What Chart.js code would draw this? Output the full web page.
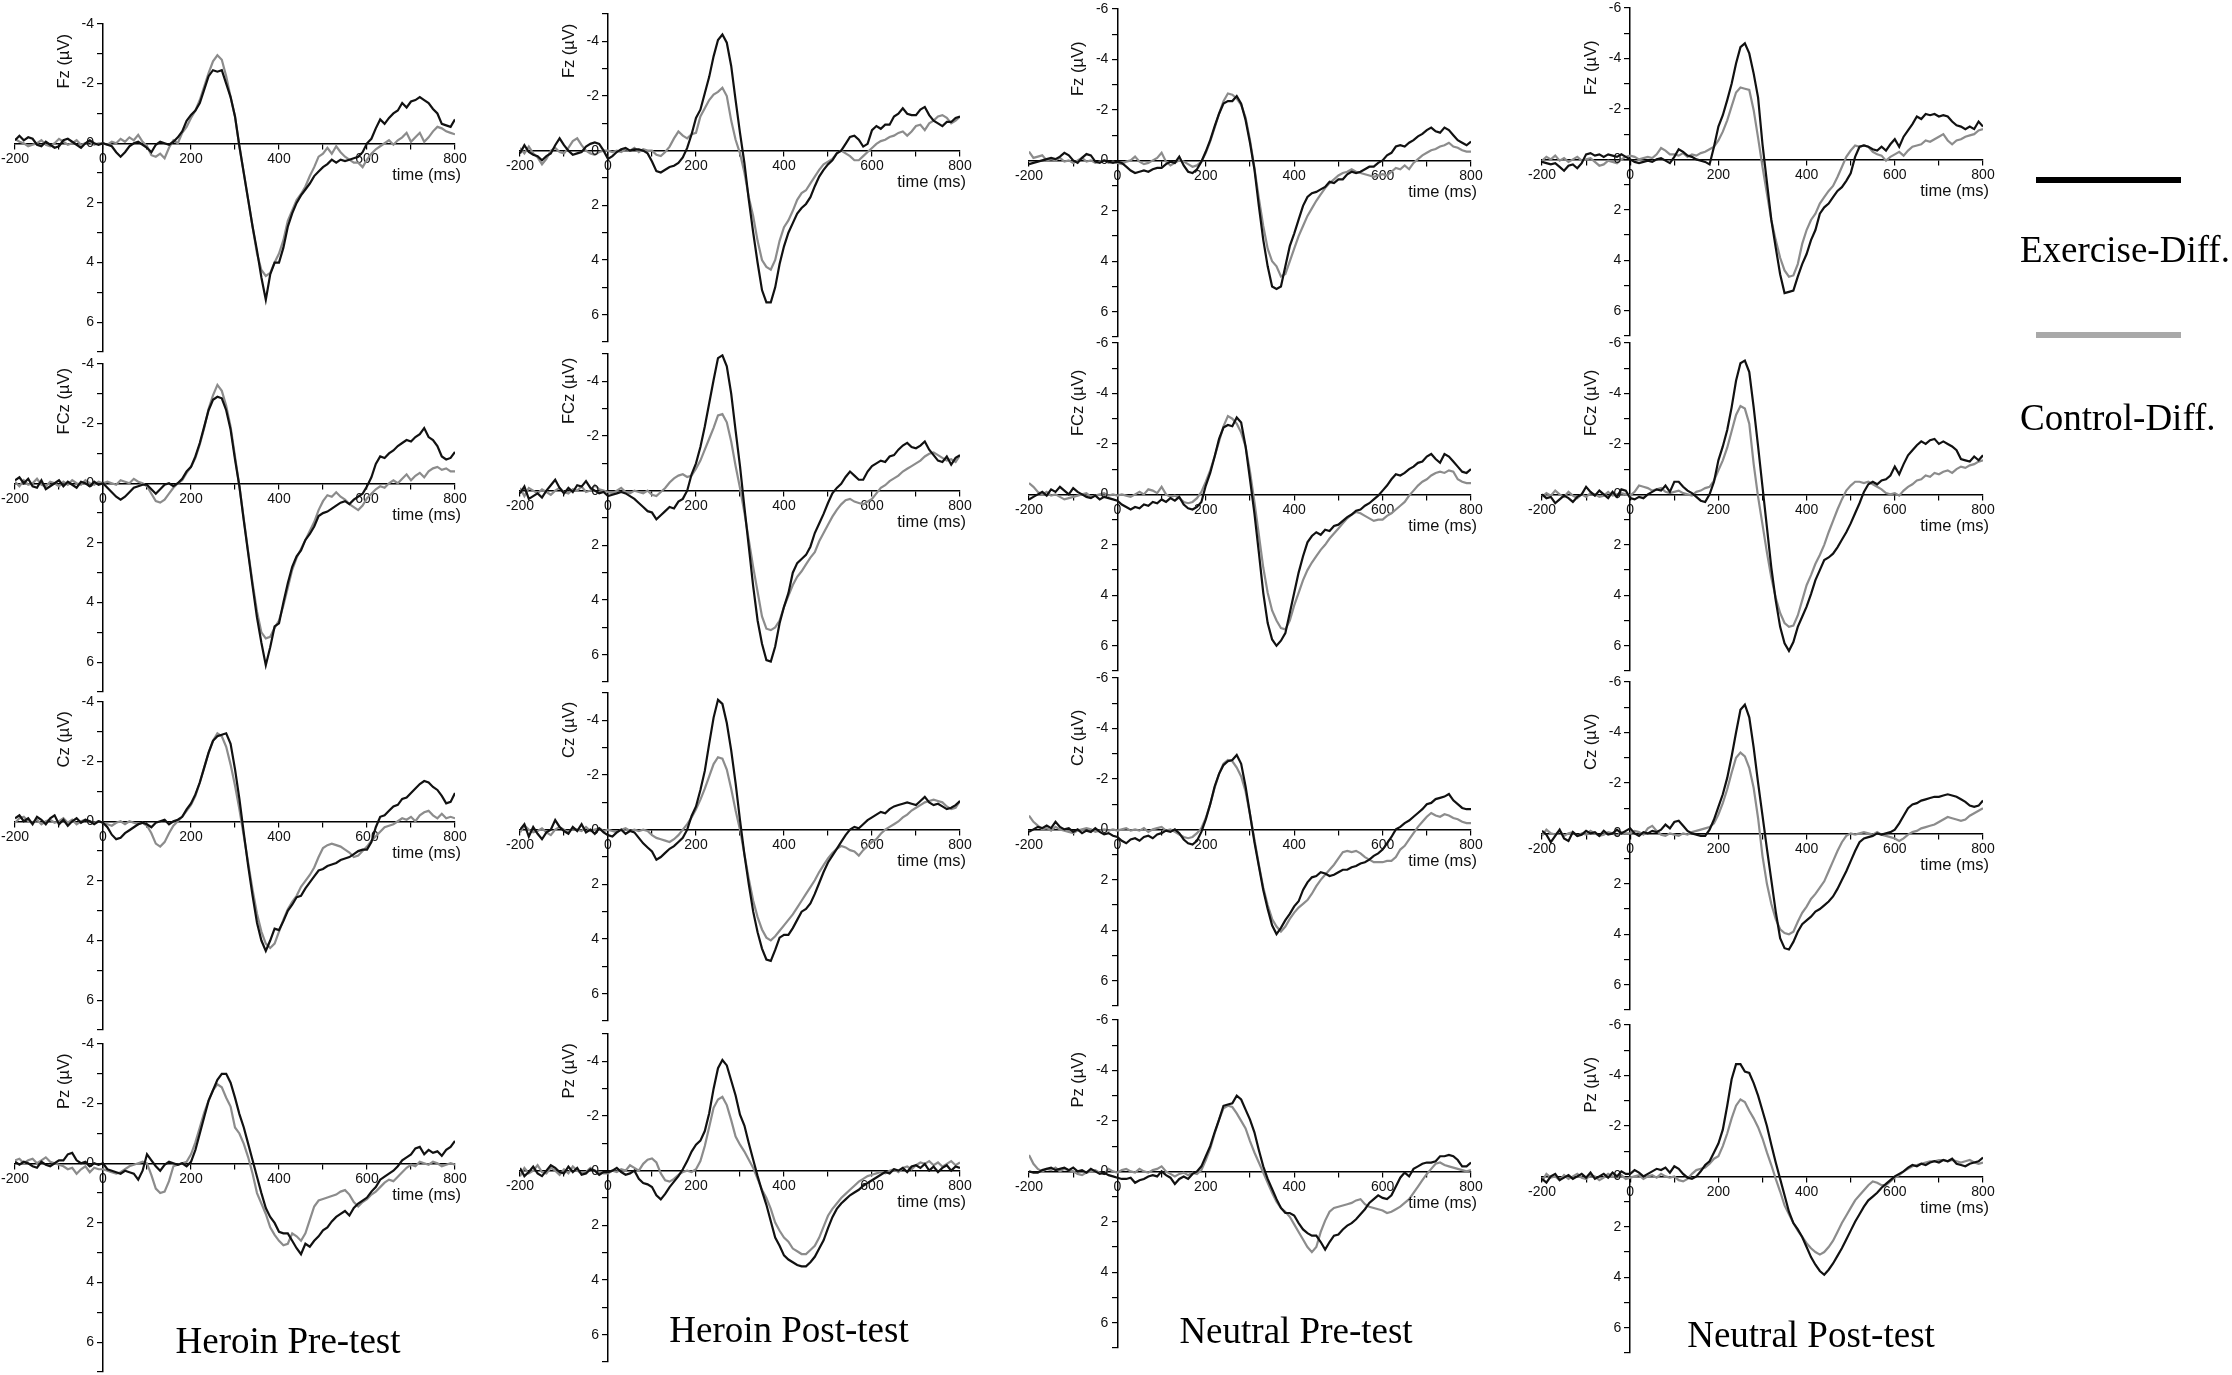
<!DOCTYPE html>
<html><head><meta charset="utf-8">
<script src="https://cdn.jsdelivr.net/npm/chart.js@4.4.1/dist/chart.umd.min.js"></script>
<style>
html,body{margin:0;padding:0;background:#fff;}
#fig{position:relative;width:2232px;height:1375px;overflow:hidden;background:#fff;}
#fig canvas{position:absolute;}
.serif{position:absolute;font-family:"Liberation Serif","Times New Roman",serif;font-size:37px;line-height:37px;white-space:nowrap;color:#000;}
.title{transform:translateX(-50%);}
.legline{position:absolute;}
</style></head><body><div id="fig"></div>
<script>
// ---------------- data ----------------
const times = [-200,-190,-180,-170,-160,-150,-140,-130,-120,-110,-100,-90,-80,-70,-60,-50,-40,-30,-20,-10,
0,10,20,30,40,50,60,70,80,90,100,110,120,130,140,150,160,170,180,190,200,210,220,230,240,250,260,270,280,290,
300,310,320,330,340,350,360,370,380,390,400,410,420,430,440,450,460,470,480,490,500,510,520,530,540,550,560,570,580,590,
600,610,620,630,640,650,660,670,680,690,700,710,720,730,740,750,760,770,780,790,800];
const electrodes = ['Fz','FCz','Cz','Pz'];
const conditions = ['Heroin Pre-test','Heroin Post-test','Neutral Pre-test','Neutral Post-test'];
const seriesNames = ['Exercise-Diff.','Control-Diff.'];
const xLabeledTicks = [-200,0,200,400,600,800];
const yLabeledTicks = [-6,-4,-2,0,2,4,6];
const yMinByCondition = [-4,-5,-6,-6];
const yMaxByCondition = [7,7,7,7];

const fzHeroinPreEx = [-0.1,-0.25,-0.1,-0.2,-0.15,0.05,0.1,-0.05,0.05,0.15,0.1,-0.1,-0.15,-0.05,0.05,0.15,0.0,-0.1,0.0,0.05,0.0,0.05,0.1,0.3,0.45,0.3,0.1,0.0,-0.05,0.05,0.15,0.3,0.05,-0.05,0.0,0.05,-0.05,-0.2,-0.4,-0.75,-0.95,-1.1,-1.35,-1.8,-2.25,-2.45,-2.4,-2.45,-2.0,-1.55,-0.9,0.1,1.0,1.9,2.8,3.6,4.5,5.25,4.4,4.0,4.0,3.5,2.8,2.35,2.0,1.75,1.55,1.35,1.1,0.95,0.8,0.7,0.55,0.65,0.55,0.6,0.55,0.5,0.45,0.3,0.0,-0.15,-0.5,-0.8,-0.65,-0.85,-1.0,-1.1,-1.35,-1.2,-1.4,-1.45,-1.55,-1.45,-1.35,-1.15,-1.0,-0.65,-0.6,-0.55,-0.8];
const fzHeroinPreCt = [-0.15,-0.05,0.0,0.1,0.05,0.0,-0.1,0.05,0.1,0.0,-0.15,-0.05,0.05,0.0,-0.1,0.05,0.0,-0.05,0.05,0.0,0.0,0.05,-0.05,0.0,-0.15,-0.05,-0.2,-0.1,-0.28,-0.05,0.1,0.4,0.45,0.35,0.5,0.15,-0.1,0.0,-0.35,-0.55,-0.85,-1.1,-1.45,-1.9,-2.35,-2.75,-2.95,-2.8,-2.25,-1.55,-0.9,0.1,1.0,1.9,2.8,3.7,4.25,4.45,4.35,4.0,3.7,3.25,2.6,2.25,1.9,1.7,1.45,1.1,0.8,0.45,0.35,0.15,0.35,0.1,0.3,0.45,0.55,0.65,0.65,0.8,0.55,0.35,0.2,0.1,0.0,-0.1,0.05,-0.1,-0.2,-0.35,-0.05,-0.2,-0.35,-0.05,-0.2,-0.4,-0.55,-0.5,-0.4,-0.35,-0.3];
const fzHeroinPostEx = [0.1,-0.2,0.05,0.15,0.2,0.35,0.2,0.1,-0.2,-0.45,-0.2,0.0,0.15,0.1,0.05,-0.15,-0.25,-0.3,-0.25,0.0,0.3,0.2,0.05,-0.05,-0.1,0.0,-0.05,-0.05,0.0,0.1,0.4,0.75,0.8,0.7,0.6,0.55,0.45,0.25,-0.1,-0.6,-1.2,-1.5,-2.1,-2.7,-3.45,-4.05,-4.25,-3.95,-3.1,-1.85,-0.65,0.45,1.8,3.0,4.1,5.1,5.55,5.55,5.0,4.15,3.5,3.0,2.65,2.3,2.1,1.95,1.7,1.3,0.95,0.7,0.5,0.35,0.1,0.0,-0.25,-0.5,-0.55,-0.4,-0.15,-0.25,-0.75,-0.9,-0.8,-0.95,-0.95,-1.25,-1.35,-1.55,-1.35,-1.3,-1.3,-1.5,-1.6,-1.3,-1.1,-1.0,-0.9,-1.05,-1.05,-1.2,-1.25];
const fzHeroinPostCt = [-0.1,0.1,-0.15,0.1,0.25,0.5,0.3,0.0,-0.1,0.05,0.1,-0.1,-0.35,-0.45,-0.2,0.0,0.1,0.15,0.05,0.0,0.0,0.05,0.0,0.05,-0.05,0.0,-0.1,0.05,-0.05,0.0,0.0,0.15,0.2,0.05,-0.15,-0.45,-0.7,-0.55,-0.45,-0.6,-0.65,-1.25,-1.55,-1.85,-2.05,-2.15,-2.3,-2.0,-1.1,-0.4,0.1,0.8,1.7,2.4,3.3,4.0,4.25,4.35,4.0,3.3,2.8,2.55,2.2,1.8,1.55,1.45,1.2,0.95,0.7,0.5,0.4,0.3,0.1,0.0,0.1,0.2,0.35,0.35,0.2,0.05,-0.1,-0.25,-0.35,-0.4,-0.5,-0.55,-0.65,-0.7,-0.55,-0.7,-0.9,-0.95,-0.75,-1.0,-1.1,-1.25,-1.3,-1.2,-1.0,-1.1,-1.25];
const fzNeutralPreEx = [0.15,0.1,0.05,0.0,-0.05,-0.1,-0.05,-0.15,-0.3,-0.2,0.0,0.1,-0.1,-0.25,-0.2,0.05,0.1,0.0,0.05,0.1,0.05,0.1,0.25,0.4,0.5,0.45,0.4,0.45,0.35,0.3,0.3,0.15,0.05,0.1,-0.15,0.2,0.45,0.5,0.35,0.05,-0.35,-0.8,-1.35,-1.85,-2.25,-2.35,-2.35,-2.55,-2.25,-1.6,-0.7,0.35,1.8,3.15,4.2,5.0,5.1,5.0,4.2,3.4,2.9,2.35,1.8,1.45,1.3,1.25,1.15,1.05,0.85,0.9,0.75,0.75,0.55,0.45,0.5,0.45,0.35,0.25,0.25,0.1,0.0,-0.2,-0.3,-0.55,-0.6,-0.55,-0.7,-0.8,-0.95,-1.05,-1.2,-1.3,-1.15,-1.1,-1.3,-1.2,-1.0,-0.8,-0.7,-0.6,-0.75];
const fzNeutralPreCt = [-0.35,-0.1,-0.15,-0.2,0.0,-0.05,0.0,-0.1,0.05,0.0,0.1,0.0,-0.1,0.05,0.0,0.1,0.05,0.0,0.1,0.05,0.1,0.15,0.05,0.0,-0.15,0.05,0.15,0.1,0.0,-0.1,-0.3,0.05,0.2,0.1,0.0,0.05,0.15,0.25,0.2,0.05,-0.3,-0.75,-1.3,-1.85,-2.35,-2.65,-2.6,-2.45,-2.2,-1.7,-0.8,0.3,1.5,2.6,3.5,4.0,4.2,4.6,4.5,4.0,3.5,3.0,2.6,2.2,1.9,1.6,1.35,1.1,0.9,0.75,0.6,0.5,0.45,0.35,0.45,0.5,0.55,0.6,0.65,0.6,0.55,0.6,0.45,0.3,0.35,0.2,0.35,0.1,-0.05,-0.2,-0.3,-0.4,-0.45,-0.55,-0.6,-0.7,-0.55,-0.5,-0.4,-0.35,-0.35];
const fzNeutralPostEx = [0.1,0.15,0.2,0.15,0.3,0.45,0.25,0.2,0.35,0.15,-0.2,-0.25,-0.15,-0.2,-0.1,-0.2,-0.15,-0.1,-0.2,-0.1,0.0,0.1,0.15,0.1,0.05,0.1,0.0,-0.05,0.05,0.15,-0.1,-0.4,-0.3,-0.15,-0.1,0.0,0.05,0.1,0.2,-0.5,-1.3,-1.75,-2.35,-3.0,-3.8,-4.45,-4.6,-4.2,-3.4,-2.45,-0.6,0.9,2.4,3.5,4.55,5.3,5.25,5.2,4.65,4.15,3.75,3.2,2.8,2.15,1.9,1.75,1.5,1.25,1.1,0.85,0.55,-0.1,-0.5,-0.55,-0.5,-0.4,-0.35,-0.5,-0.35,-0.6,-0.8,-0.5,-0.9,-1.15,-1.4,-1.7,-1.6,-1.8,-1.75,-1.8,-1.7,-1.75,-1.7,-1.5,-1.35,-1.3,-1.2,-1.3,-1.2,-1.5,-1.3];
const fzNeutralPostCt = [0.05,-0.1,0.0,-0.15,0.05,-0.05,0.1,0.0,-0.1,0.05,0.0,-0.05,0.1,0.25,0.2,0.05,0.1,0.15,0.0,-0.1,-0.15,-0.1,0.0,-0.05,-0.1,-0.05,-0.2,-0.45,-0.35,-0.2,-0.2,-0.15,-0.25,-0.1,-0.2,-0.15,-0.25,-0.3,-0.4,-0.5,-0.75,-1.1,-1.55,-2.1,-2.65,-2.85,-2.8,-2.75,-1.95,-0.85,0.3,1.35,2.4,3.2,3.9,4.4,4.65,4.6,4.15,3.35,2.8,2.4,2.15,1.75,1.5,1.25,1.05,0.7,0.3,-0.1,-0.35,-0.55,-0.5,-0.55,-0.5,-0.3,-0.2,-0.15,0.05,-0.1,-0.2,-0.3,-0.15,-0.35,-0.5,-0.55,-0.6,-0.75,-0.7,-0.8,-0.9,-1.0,-0.75,-0.6,-0.75,-0.8,-0.9,-0.95,-1.0,-1.15,-1.2];

const fczHeroinPreEx = [-0.1,-0.2,0.0,-0.15,0.1,0.15,-0.1,0.2,0.1,0.0,-0.1,0.1,-0.05,0.05,0.15,-0.05,0.0,0.1,-0.05,0.05,0.0,0.15,0.3,0.45,0.55,0.45,0.3,0.15,0.1,0.05,0.05,0.2,0.35,0.2,0.05,0.0,0.1,0.0,-0.15,-0.4,-0.55,-0.9,-1.35,-1.9,-2.45,-2.8,-2.9,-2.85,-2.45,-1.8,-0.8,0.1,1.25,2.35,3.45,4.5,5.35,6.1,5.5,4.8,4.7,4.0,3.35,2.8,2.45,2.25,1.9,1.7,1.45,1.1,1.0,0.95,0.85,0.75,0.65,0.6,0.7,0.55,0.45,0.35,0.1,-0.2,-0.65,-0.9,-0.85,-1.0,-1.1,-1.25,-1.35,-1.45,-1.4,-1.55,-1.65,-1.85,-1.55,-1.45,-1.25,-0.9,-0.8,-0.85,-1.05];
const fczHeroinPreCt = [-0.05,0.1,-0.1,0.05,0.0,-0.15,0.05,0.1,-0.05,0.0,0.1,-0.05,0.05,-0.1,0.0,0.05,-0.1,0.0,0.05,-0.05,0.0,-0.05,0.0,0.05,-0.1,-0.05,0.0,-0.15,-0.05,0.0,0.1,0.35,0.6,0.65,0.55,0.35,0.15,0.0,-0.1,-0.35,-0.55,-0.85,-1.3,-1.85,-2.5,-2.95,-3.3,-3.1,-2.6,-1.9,-0.9,0.1,1.2,2.3,3.35,4.3,5.0,5.2,5.15,4.85,4.6,4.1,3.5,2.9,2.5,2.2,1.9,1.6,1.3,0.9,0.6,0.4,0.45,0.3,0.45,0.55,0.7,0.8,0.9,0.75,0.5,0.35,0.2,0.1,0.15,0.0,-0.1,0.0,-0.15,-0.3,-0.1,-0.25,-0.35,-0.2,-0.4,-0.5,-0.55,-0.45,-0.5,-0.4,-0.4];
const fczHeroinPostEx = [0.1,-0.15,0.3,0.2,0.1,0.25,0.0,-0.2,-0.4,-0.1,0.1,-0.1,0.05,-0.2,-0.15,-0.35,-0.1,0.0,0.1,0.05,0.2,0.15,0.1,0.05,0.1,0.2,0.3,0.45,0.6,0.75,0.8,1.05,0.9,0.75,0.6,0.65,0.4,0.3,0.0,-0.6,-1.0,-1.6,-2.35,-3.2,-4.05,-4.85,-4.95,-4.55,-3.55,-2.2,-0.9,0.6,2.05,3.5,4.75,5.6,6.2,6.25,5.7,4.85,4.25,3.75,3.0,2.65,2.5,2.35,2.05,1.55,1.2,0.85,0.45,0.1,-0.1,-0.25,-0.5,-0.7,-0.55,-0.4,-0.4,-0.7,-0.9,-1.0,-1.1,-1.05,-1.25,-1.3,-1.5,-1.65,-1.75,-1.6,-1.55,-1.65,-1.8,-1.5,-1.3,-1.1,-1.05,-1.25,-0.95,-1.2,-1.3];
const fczHeroinPostCt = [-0.1,0.2,-0.1,0.0,0.1,-0.05,0.05,0.15,0.0,-0.1,0.05,0.1,-0.05,0.0,-0.15,0.05,0.0,-0.2,-0.05,0.0,0.05,0.1,0.0,-0.1,0.05,0.1,0.0,0.05,0.1,0.0,0.15,0.2,0.05,-0.1,-0.3,-0.45,-0.55,-0.6,-0.5,-0.55,-0.8,-1.1,-1.5,-1.9,-2.3,-2.75,-2.8,-2.5,-1.8,-0.9,-0.1,0.8,1.8,2.8,3.7,4.6,5.05,5.1,5.0,4.75,4.25,3.85,3.45,3.15,2.95,2.7,2.45,2.25,1.85,1.55,1.25,0.95,0.7,0.5,0.35,0.3,0.4,0.45,0.5,0.4,0.3,0.1,-0.1,-0.2,-0.35,-0.45,-0.55,-0.7,-0.8,-0.9,-1.0,-1.1,-1.25,-1.35,-1.4,-1.3,-1.2,-1.1,-1.15,-1.05,-1.3];
const fczNeutralPreEx = [0.2,0.1,0.0,-0.1,0.05,-0.2,-0.1,-0.3,-0.15,0.0,-0.25,-0.1,0.0,0.1,0.15,0.05,0.2,0.1,0.15,0.2,0.25,0.4,0.5,0.6,0.5,0.55,0.4,0.45,0.3,0.35,0.2,0.3,0.15,0.25,0.1,0.4,0.55,0.6,0.5,0.3,-0.35,-0.85,-1.5,-2.2,-2.65,-2.75,-2.7,-3.05,-2.85,-1.9,-0.6,0.75,2.3,3.9,5.1,5.75,6.0,5.8,5.5,4.7,3.9,3.1,2.45,1.9,1.65,1.5,1.6,1.4,1.45,1.25,1.2,1.05,0.9,0.8,0.65,0.6,0.45,0.35,0.2,0.05,-0.15,-0.35,-0.6,-0.8,-0.75,-0.85,-1.0,-1.1,-1.25,-1.3,-1.5,-1.6,-1.4,-1.25,-1.6,-1.5,-1.3,-1.1,-0.9,-0.85,-1.0];
const fczNeutralPreCt = [-0.45,-0.3,-0.1,0.0,-0.1,0.05,0.0,0.1,0.2,0.15,0.1,0.05,0.0,-0.05,0.1,0.05,0.0,-0.05,0.05,0.0,0.05,0.0,0.05,0.1,0.0,-0.1,0.0,-0.2,-0.15,-0.05,-0.3,0.0,0.1,0.05,0.15,0.3,0.35,0.3,0.15,-0.1,-0.5,-0.95,-1.5,-2.1,-2.7,-3.1,-3.0,-2.8,-2.45,-1.9,-0.9,0.3,1.6,2.9,3.9,4.6,5.0,5.3,5.35,5.0,4.4,3.9,3.4,3.0,2.7,2.45,2.2,2.0,1.75,1.55,1.35,1.15,0.95,0.8,0.7,0.75,0.85,0.95,1.05,1.0,1.0,0.85,0.75,0.6,0.45,0.3,0.05,-0.15,-0.35,-0.5,-0.6,-0.75,-0.85,-0.9,-0.85,-0.95,-0.9,-0.6,-0.5,-0.45,-0.45];
const fczNeutralPostEx = [0.0,0.15,0.1,0.35,0.2,0.05,0.15,0.3,0.1,0.0,-0.3,-0.1,0.05,-0.15,0.0,0.15,-0.1,0.1,-0.2,-0.15,0.15,0.2,0.1,0.15,0.0,-0.1,-0.2,-0.15,-0.35,-0.1,-0.5,-0.5,-0.3,-0.15,-0.05,0.1,0.25,0.3,0.0,-0.5,-1.35,-1.9,-2.55,-3.45,-4.5,-5.2,-5.3,-4.85,-3.45,-1.9,-0.3,1.3,2.9,4.2,5.25,5.9,6.2,5.85,5.25,4.85,4.45,3.95,3.4,3.0,2.6,2.5,2.35,2.1,1.8,1.5,1.15,0.75,0.35,-0.1,-0.4,-0.5,-0.4,-0.55,-0.6,-0.75,-1.1,-0.8,-1.2,-1.55,-1.75,-1.95,-2.1,-2.0,-2.15,-2.2,-2.0,-2.1,-2.0,-1.9,-1.75,-1.4,-1.35,-1.3,-1.5,-1.35,-1.55];
const fczNeutralPostCt = [0.1,-0.05,0.05,-0.15,0.0,0.1,-0.1,0.05,0.15,0.0,0.1,-0.05,0.0,0.1,0.05,-0.1,0.05,0.0,-0.05,0.0,0.05,-0.1,-0.35,-0.3,-0.25,-0.15,-0.2,-0.25,-0.1,-0.05,-0.1,-0.15,-0.05,0.0,0.05,-0.1,-0.15,-0.25,-0.3,-0.55,-0.95,-1.35,-1.85,-2.5,-3.15,-3.5,-3.4,-2.8,-1.2,0.1,1.2,2.3,3.3,4.1,4.7,5.1,5.25,5.2,4.8,4.2,3.6,3.2,2.75,2.4,2.0,1.5,1.05,0.6,0.2,-0.15,-0.35,-0.5,-0.5,-0.45,-0.5,-0.4,-0.3,-0.2,-0.05,0.0,-0.05,0.05,-0.15,-0.3,-0.4,-0.55,-0.6,-0.75,-0.7,-0.85,-0.8,-0.9,-0.95,-0.85,-1.0,-1.1,-1.05,-1.15,-1.2,-1.3,-1.35];

const czHeroinPreEx = [-0.1,-0.2,0.0,-0.1,0.1,-0.15,-0.05,0.1,-0.1,-0.2,0.1,-0.05,0.15,0.0,-0.1,0.05,-0.05,0.0,0.1,0.0,0.05,0.2,0.45,0.6,0.55,0.4,0.3,0.2,0.1,0.05,0.1,0.2,0.05,0.0,-0.05,0.1,0.0,-0.05,-0.15,-0.4,-0.6,-0.9,-1.3,-1.8,-2.3,-2.7,-2.85,-2.9,-2.95,-2.6,-1.75,-0.75,0.4,1.5,2.5,3.4,4.0,4.35,4.0,3.6,3.65,3.35,3.0,2.8,2.55,2.5,2.25,2.05,1.85,1.65,1.6,1.5,1.45,1.4,1.3,1.25,1.2,1.1,1.0,0.95,0.95,0.7,0.2,-0.15,-0.2,-0.35,-0.5,-0.55,-0.75,-0.8,-0.95,-1.1,-1.25,-1.35,-1.3,-1.15,-1.05,-0.85,-0.6,-0.65,-0.95];
const czHeroinPreCt = [0.05,-0.1,-0.15,0.0,0.05,-0.05,0.1,0.0,-0.05,0.05,0.0,-0.1,0.05,-0.05,0.1,0.0,-0.05,0.0,0.05,0.0,0.05,0.1,0.15,0.05,0.0,0.1,0.0,0.05,0.1,0.05,0.15,0.4,0.75,0.85,0.7,0.4,0.15,0.0,-0.15,-0.35,-0.55,-0.85,-1.3,-1.8,-2.3,-2.7,-2.95,-2.85,-2.5,-1.9,-1.2,-0.4,0.5,1.4,2.3,3.1,3.7,4.1,4.25,4.1,3.7,3.3,2.95,2.7,2.5,2.2,2.0,1.8,1.55,1.2,0.9,0.8,0.75,0.8,0.85,0.95,1.05,1.2,1.15,1.0,0.85,0.65,0.5,0.35,0.2,0.15,0.1,0.0,-0.1,-0.05,-0.15,0.0,-0.2,-0.3,-0.35,-0.2,-0.1,-0.25,-0.1,-0.15,-0.1];
const czHeroinPostEx = [0.0,-0.2,0.25,-0.1,0.15,0.35,0.1,0.0,-0.35,-0.1,0.05,0.15,-0.1,0.05,-0.2,0.1,0.0,0.15,-0.05,0.1,0.2,0.25,0.1,0.0,0.15,0.05,0.1,0.3,0.5,0.65,0.8,1.1,1.0,0.85,0.7,0.6,0.45,0.3,0.0,-0.5,-0.85,-1.45,-2.15,-3.15,-4.1,-4.75,-4.6,-3.9,-2.9,-1.7,-0.35,0.9,2.0,3.0,3.75,4.35,4.75,4.8,4.4,3.95,3.85,3.85,3.6,3.3,3.0,2.9,2.7,2.35,1.95,1.55,1.2,0.95,0.7,0.45,0.2,0.0,-0.1,-0.05,-0.2,-0.35,-0.45,-0.55,-0.65,-0.6,-0.75,-0.85,-0.9,-0.95,-1.0,-0.95,-0.9,-1.05,-1.2,-1.0,-0.9,-0.95,-0.85,-0.75,-0.8,-0.9,-1.05];
const czHeroinPostCt = [0.1,-0.15,0.0,0.1,0.05,-0.05,0.1,0.2,0.0,-0.1,0.0,0.1,-0.05,0.0,0.05,-0.1,0.05,0.0,-0.05,0.05,0.0,0.05,0.1,0.0,-0.05,0.05,0.0,0.05,0.0,0.05,0.2,0.3,0.35,0.4,0.45,0.35,0.2,0.0,-0.2,-0.45,-0.75,-1.1,-1.5,-1.95,-2.4,-2.65,-2.6,-2.2,-1.5,-0.7,0.0,0.9,1.8,2.6,3.2,3.65,3.95,4.05,3.9,3.7,3.5,3.3,3.1,2.85,2.6,2.35,2.1,1.85,1.55,1.3,1.05,0.85,0.7,0.6,0.65,0.75,0.8,0.95,0.75,0.6,0.45,0.35,0.15,0.0,-0.1,-0.2,-0.3,-0.45,-0.55,-0.7,-0.8,-0.9,-1.0,-1.05,-1.1,-1.05,-1.0,-0.85,-0.75,-0.8,-1.05];
const czNeutralPreEx = [0.1,0.0,-0.1,-0.05,-0.15,-0.05,-0.3,-0.1,0.0,-0.05,0.1,0.0,0.15,0.05,0.1,-0.05,0.1,0.2,0.15,0.25,0.3,0.45,0.55,0.4,0.35,0.45,0.3,0.25,0.35,0.2,0.15,0.05,0.1,0.0,0.15,0.4,0.55,0.6,0.45,0.1,-0.4,-1.0,-1.7,-2.2,-2.55,-2.7,-2.75,-2.95,-2.6,-1.7,-0.6,0.5,1.45,2.4,3.15,3.8,4.15,3.9,3.6,3.35,3.05,2.85,2.4,2.1,1.9,1.85,1.7,1.75,1.85,1.8,1.7,1.6,1.6,1.5,1.45,1.35,1.3,1.2,1.05,0.95,0.8,0.55,0.3,0.0,-0.1,-0.25,-0.35,-0.5,-0.65,-0.8,-1.0,-1.05,-1.2,-1.25,-1.3,-1.4,-1.15,-1.0,-0.85,-0.8,-0.8];
const czNeutralPreCt = [-0.55,-0.3,-0.15,0.0,-0.05,0.05,-0.1,0.0,0.05,0.1,0.15,0.05,0.0,-0.05,0.0,0.1,0.05,0.0,0.05,0.0,0.05,0.0,-0.05,0.05,0.0,0.05,-0.05,0.1,0.0,-0.05,-0.1,0.05,0.0,0.1,0.2,0.3,0.35,0.3,0.15,-0.05,-0.45,-1.0,-1.65,-2.2,-2.6,-2.75,-2.7,-2.45,-2.1,-1.5,-0.6,0.4,1.4,2.3,3.0,3.55,3.85,4.05,3.85,3.55,3.3,3.1,2.95,2.8,2.55,2.25,2.0,1.8,1.6,1.4,1.15,0.9,0.85,0.9,0.85,0.95,1.1,1.2,1.3,1.3,1.3,1.25,1.25,1.1,0.8,0.65,0.4,0.15,-0.1,-0.3,-0.5,-0.65,-0.55,-0.5,-0.6,-0.55,-0.45,-0.4,-0.3,-0.25,-0.25];
const czNeutralPostEx = [-0.1,0.05,0.35,0.1,-0.15,0.2,0.3,-0.05,0.1,0.05,-0.1,0.0,-0.05,0.1,-0.1,0.05,0.0,-0.15,0.0,-0.1,-0.2,0.0,0.1,-0.05,0.0,-0.1,-0.05,-0.15,-0.35,-0.2,-0.45,-0.5,-0.3,-0.1,0.0,0.05,0.1,0.1,-0.15,-0.55,-1.05,-1.55,-2.2,-3.05,-4.0,-4.9,-5.1,-4.6,-3.4,-2.0,-0.7,0.6,1.85,3.1,4.15,4.55,4.6,4.3,3.9,3.6,3.45,3.3,3.1,3.0,2.85,2.7,2.5,2.2,1.85,1.5,1.1,0.7,0.35,0.2,0.15,0.1,0.0,0.05,0.0,-0.05,-0.15,-0.4,-0.7,-1.0,-1.15,-1.2,-1.3,-1.35,-1.4,-1.45,-1.45,-1.5,-1.55,-1.5,-1.45,-1.35,-1.25,-1.1,-1.05,-1.1,-1.3];
const czNeutralPostCt = [0.1,-0.15,0.0,0.05,-0.1,0.1,0.0,-0.05,0.1,0.0,0.05,-0.1,0.0,0.1,0.05,-0.05,0.0,0.1,-0.05,0.0,0.0,-0.1,-0.05,0.05,-0.2,-0.3,-0.1,0.05,0.1,0.0,0.05,0.1,0.0,0.05,-0.05,-0.1,-0.15,-0.2,-0.25,-0.4,-0.75,-1.2,-1.75,-2.4,-3.0,-3.2,-3.05,-2.6,-1.8,-0.6,0.9,2.0,2.8,3.4,3.8,3.95,4.0,3.9,3.5,3.15,2.9,2.6,2.4,2.15,1.9,1.5,1.1,0.7,0.35,0.1,0.0,0.05,0.0,-0.05,0.0,0.05,-0.05,0.05,0.1,0.15,0.2,0.3,0.2,0.05,-0.05,-0.1,-0.2,-0.25,-0.3,-0.35,-0.45,-0.55,-0.65,-0.6,-0.55,-0.5,-0.55,-0.7,-0.8,-0.9,-1.0];

const pzHeroinPreEx = [-0.05,0.05,-0.05,0.0,0.1,0.15,-0.05,0.05,0.1,0.0,-0.1,-0.1,-0.3,-0.35,-0.1,0.0,-0.05,0.1,0.0,0.05,0.0,0.2,0.25,0.3,0.35,0.25,0.3,0.35,0.55,0.25,-0.3,-0.1,0.1,0.25,0.05,-0.05,0.0,0.05,0.0,0.1,-0.05,-0.45,-1.0,-1.55,-2.1,-2.45,-2.8,-3.0,-3.0,-2.7,-2.2,-1.65,-1.2,-0.65,-0.1,0.45,1.0,1.5,1.8,2.0,2.3,2.35,2.35,2.6,2.85,3.05,2.7,2.8,2.6,2.45,2.25,2.15,1.95,1.8,1.7,1.6,1.75,1.5,1.35,1.25,1.15,0.95,0.8,0.55,0.45,0.35,0.25,0.1,-0.1,-0.2,-0.3,-0.5,-0.55,-0.3,-0.45,-0.35,-0.4,-0.25,-0.45,-0.55,-0.75];
const pzHeroinPreCt = [-0.1,-0.15,0.0,-0.1,-0.15,0.0,-0.1,-0.2,-0.05,0.0,0.05,0.1,0.2,0.15,0.35,0.2,0.1,0.3,0.15,0.2,0.2,0.25,0.3,0.35,0.3,0.2,0.1,0.05,0.0,-0.05,0.0,0.4,0.85,1.0,0.95,0.6,0.1,0.05,0.0,-0.05,-0.3,-0.7,-1.2,-1.7,-2.1,-2.45,-2.65,-2.55,-2.2,-1.9,-1.2,-1.0,-0.65,-0.2,0.35,1.0,1.35,1.7,2.15,2.4,2.6,2.75,2.7,2.35,2.45,2.6,2.35,1.9,1.45,1.25,1.2,1.15,1.1,1.05,0.95,0.9,1.05,1.3,1.45,1.3,1.2,1.05,0.95,0.8,0.65,0.55,0.6,0.45,0.3,0.15,0.05,0.1,-0.05,0.0,0.05,-0.05,0.0,0.1,0.05,0.0,0.05];
const pzHeroinPostEx = [-0.1,0.2,0.05,-0.15,0.1,0.2,0.0,-0.2,-0.1,0.05,0.1,-0.15,0.05,-0.1,0.15,0.1,-0.05,0.0,0.15,0.05,0.05,0.0,-0.1,0.05,0.15,0.1,0.0,0.3,0.45,0.5,0.6,0.9,1.05,0.85,0.6,0.4,0.2,-0.05,-0.35,-0.7,-0.95,-1.1,-1.45,-2.1,-3.0,-3.75,-4.05,-3.85,-3.3,-2.75,-2.05,-1.65,-1.0,-0.4,0.2,0.75,1.25,1.85,2.45,2.75,3.1,3.25,3.35,3.45,3.5,3.5,3.35,3.15,2.85,2.55,2.1,1.7,1.4,1.2,1.05,0.9,0.8,0.7,0.55,0.45,0.35,0.25,0.15,0.05,0.1,-0.05,0.0,-0.1,0.05,-0.15,-0.2,-0.1,-0.25,0.0,-0.15,0.05,-0.1,-0.2,0.0,-0.15,-0.1];
const pzHeroinPostCt = [0.2,-0.1,0.1,0.0,-0.2,0.05,0.1,-0.1,0.0,0.15,-0.05,0.1,-0.15,0.0,0.1,0.05,-0.1,0.0,0.05,0.1,0.1,0.0,0.05,-0.05,0.0,-0.2,-0.1,0.0,-0.25,-0.4,-0.45,-0.3,0.1,0.35,0.4,0.3,0.15,0.05,0.0,0.05,-0.05,-0.35,-0.9,-1.6,-2.3,-2.6,-2.7,-2.4,-1.85,-1.25,-0.95,-0.7,-0.4,-0.1,0.3,0.7,1.0,1.4,1.9,2.2,2.45,2.6,2.85,2.95,3.05,3.05,2.9,2.75,2.45,2.05,1.65,1.4,1.2,1.0,0.85,0.7,0.55,0.4,0.3,0.2,0.15,0.1,0.05,0.1,0.0,-0.05,0.05,-0.1,-0.15,-0.05,-0.2,-0.3,-0.25,-0.35,-0.2,-0.3,-0.15,-0.25,-0.35,-0.2,-0.3];
const pzNeutralPreEx = [0.0,0.05,0.05,-0.05,-0.1,-0.15,-0.05,-0.1,-0.15,-0.05,-0.15,0.0,-0.05,0.05,-0.1,0.0,0.1,0.05,0.15,0.2,0.25,0.3,0.3,0.25,0.45,0.35,0.3,0.2,0.15,0.2,0.0,0.15,0.25,0.5,0.3,0.2,0.3,0.1,0.0,-0.2,-0.6,-1.0,-1.55,-2.05,-2.6,-2.65,-2.7,-3.0,-2.85,-2.45,-2.05,-1.55,-0.85,-0.2,0.3,0.7,1.1,1.45,1.65,1.65,1.75,2.05,2.3,2.45,2.55,2.55,2.8,3.1,2.8,2.55,2.5,2.3,2.15,2.05,1.9,1.7,1.5,1.25,1.1,0.95,1.05,1.1,0.95,0.6,0.25,0.05,0.2,-0.1,-0.2,-0.3,-0.35,-0.35,-0.4,-0.6,-0.6,-0.65,-0.6,-0.45,-0.2,-0.2,-0.35];
const pzNeutralPreCt = [-0.65,-0.3,-0.1,0.0,-0.1,-0.05,-0.15,0.0,-0.1,-0.05,0.0,0.1,0.15,0.05,0.0,-0.05,0.05,0.1,-0.1,0.0,0.05,-0.05,-0.1,0.0,0.05,-0.1,0.0,0.05,-0.05,-0.1,-0.2,0.0,0.1,0.2,0.1,0.05,0.15,0.05,0.1,-0.05,-0.45,-0.9,-1.5,-2.05,-2.5,-2.6,-2.55,-2.3,-2.0,-1.7,-1.2,-0.75,-0.35,0.05,0.45,0.85,1.2,1.45,1.6,1.8,2.1,2.4,2.7,3.0,3.2,3.0,2.4,1.95,1.6,1.45,1.4,1.35,1.3,1.25,1.15,1.1,1.3,1.4,1.45,1.5,1.55,1.65,1.6,1.5,1.4,1.25,1.1,0.85,0.6,0.35,0.1,-0.1,-0.3,-0.35,-0.25,-0.2,-0.15,-0.1,-0.05,0.0,-0.05];
const pzNeutralPostEx = [0.1,0.25,0.0,-0.1,0.15,0.05,-0.05,0.1,0.0,-0.1,0.05,-0.15,0.1,0.0,-0.1,0.05,-0.15,0.0,-0.2,-0.1,-0.1,-0.25,-0.15,0.0,-0.1,-0.2,-0.3,-0.25,-0.35,-0.15,-0.4,-0.3,-0.1,0.05,0.1,0.0,-0.2,-0.45,-0.6,-0.95,-1.3,-1.85,-2.8,-3.85,-4.45,-4.45,-4.15,-4.1,-3.7,-3.2,-2.6,-2.0,-1.25,-0.55,0.1,0.75,1.4,1.85,2.1,2.4,2.8,3.2,3.5,3.75,3.9,3.7,3.45,3.15,2.85,2.5,2.15,1.8,1.5,1.2,0.95,0.8,0.65,0.45,0.3,0.15,0.0,-0.1,-0.2,-0.35,-0.45,-0.4,-0.5,-0.45,-0.55,-0.6,-0.55,-0.65,-0.6,-0.7,-0.5,-0.45,-0.4,-0.5,-0.55,-0.6,-0.75];
const pzNeutralPostCt = [0.2,-0.1,0.05,0.0,0.15,-0.05,0.1,0.0,-0.1,0.05,0.1,-0.05,0.0,0.15,0.05,-0.1,0.0,0.05,-0.05,0.1,0.05,0.0,-0.05,0.1,0.0,-0.05,0.05,-0.1,0.0,0.05,0.0,0.15,0.2,0.1,-0.1,-0.25,-0.3,-0.35,-0.5,-0.7,-0.8,-1.2,-1.7,-2.3,-2.8,-3.05,-2.95,-2.6,-2.3,-1.95,-1.5,-0.95,-0.45,0.1,0.6,1.15,1.5,1.85,2.15,2.4,2.65,2.85,3.0,3.1,3.0,2.8,2.55,2.2,1.85,1.55,1.25,0.95,0.75,0.55,0.35,0.2,0.25,0.35,0.35,0.2,0.05,-0.05,-0.2,-0.3,-0.4,-0.45,-0.5,-0.55,-0.6,-0.6,-0.65,-0.65,-0.6,-0.65,-0.6,-0.55,-0.6,-0.65,-0.55,-0.5,-0.55];

// rows = electrodes, cols = conditions, [exercise, control]
const waves = [
  [[fzHeroinPreEx, fzHeroinPreCt],[fzHeroinPostEx, fzHeroinPostCt],[fzNeutralPreEx, fzNeutralPreCt],[fzNeutralPostEx, fzNeutralPostCt]],
  [[fczHeroinPreEx, fczHeroinPreCt],[fczHeroinPostEx, fczHeroinPostCt],[fczNeutralPreEx, fczNeutralPreCt],[fczNeutralPostEx, fczNeutralPostCt]],
  [[czHeroinPreEx, czHeroinPreCt],[czHeroinPostEx, czHeroinPostCt],[czNeutralPreEx, czNeutralPreCt],[czNeutralPostEx, czNeutralPostCt]],
  [[pzHeroinPreEx, pzHeroinPreCt],[pzHeroinPostEx, pzHeroinPostCt],[pzNeutralPreEx, pzNeutralPreCt],[pzNeutralPostEx, pzNeutralPostCt]]
];

// ---------------- layout (pixels) ----------------
const colPlotLeft = [15, 520, 1029, 1542];
const colPlotWidth = [440, 440, 442, 441];
const panelTop = [[24,14,9,8],[364,354,343,343],[702,693,678,682],[1044,1034,1020,1025]];
const plotHeight = 328;
const yTitleAt = [-2.75,-3.65,-3.63,-3.63];
const titlePos = [[288,1322],[789,1311],[1296,1312],[1811,1316]];
const PAD = {left: 24, right: 44, top: 14, bottom: 14};
const lineColors = ['#111111', '#8c8c8c'];
const SANS = '"Liberation Sans", Arial, Helvetica, sans-serif';
const TICK_LEN = 5;

const panelText = {
  id: 'panelText',
  afterDraw(chart, args, opts) {
    const {ctx} = chart; const x = chart.scales.x, y = chart.scales.y;
    const x0 = x.getPixelForValue(0);
    ctx.save();
    ctx.fillStyle = '#111';
    // y tick labels, placed left of the outward tick marks
    ctx.font = '14px ' + SANS;
    ctx.textAlign = 'right'; ctx.textBaseline = 'middle';
    y.ticks.forEach(t => {
      if (yLabeledTicks.includes(t.value)) ctx.fillText(String(t.value), x0 - TICK_LEN - 4, y.getPixelForValue(t.value));
    });
    // x axis title
    ctx.font = '16.5px ' + SANS;
    ctx.fillText('time (ms)', x.getPixelForValue(800) + 6, y.getPixelForValue(0) + 32);
    // y axis title
    ctx.translate(x0 - 39, y.getPixelForValue(opts.at));
    ctx.rotate(-Math.PI / 2);
    ctx.textAlign = 'center'; ctx.textBaseline = 'middle';
    ctx.fillText(opts.title, 0, 0);
    ctx.restore();
  }
};

const fig = document.getElementById('fig');
const axisCommon = {
  grid: {display: true, drawOnChartArea: false, drawTicks: true, tickLength: TICK_LEN, color: '#000', lineWidth: 1.2},
  border: {display: true, color: '#000', width: 1.5}
};

electrodes.forEach((el, r) => {
  conditions.forEach((cond, c) => {
    const cv = document.createElement('canvas');
    cv.width = colPlotWidth[c] + PAD.left + PAD.right;
    cv.height = plotHeight + PAD.top + PAD.bottom;
    cv.style.left = (colPlotLeft[c] - PAD.left) + 'px';
    cv.style.top = (panelTop[r][c] - PAD.top) + 'px';
    fig.appendChild(cv);
    const datasets = waves[r][c].map((vals, k) => ({
      label: seriesNames[k],
      data: times.map((t, i) => ({x: t, y: vals[i]})),
      borderColor: lineColors[k],
      borderWidth: 2.2,
      pointRadius: 0,
      tension: 0,
      fill: false
    }));
    new Chart(cv, {
      type: 'line',
      data: {datasets},
      options: {
        responsive: false, animation: false, maintainAspectRatio: false,
        layout: {padding: PAD},
        plugins: {legend: {display: false}, tooltip: {enabled: false},
                  panelText: {title: el + ' (\u00b5V)', at: yTitleAt[c]}},
        scales: {
          x: Object.assign({}, axisCommon, {
            type: 'linear', min: -200, max: 800, position: {y: 0},
            ticks: {stepSize: 100, autoSkip: false, maxRotation: 0, minRotation: 0, padding: 2,
                    color: '#111', font: {family: SANS, size: 14},
                    callback: v => xLabeledTicks.includes(v) ? String(v) : ''}
          }),
          y: Object.assign({}, axisCommon, {
            type: 'linear', reverse: true, min: yMinByCondition[c], max: yMaxByCondition[c], position: {x: 0},
            ticks: {stepSize: 1, autoSkip: false, padding: 3, color: '#111', font: {family: SANS, size: 14},
                    callback: () => ''}
          })
        }
      },
      plugins: [panelText]
    });
  });
});

// titles
conditions.forEach((cond, c) => {
  const d = document.createElement('div');
  d.className = 'serif title';
  d.textContent = cond;
  d.style.left = titlePos[c][0] + 'px';
  d.style.top = titlePos[c][1] + 'px';
  fig.appendChild(d);
});

// legend
const legend = [
  {name: seriesNames[0], color: '#000', lineTop: 176.5, lineH: 6.5, textTop: 231},
  {name: seriesNames[1], color: '#a9a9a9', lineTop: 332, lineH: 6, textTop: 399}
];
legend.forEach(item => {
  const ln = document.createElement('div');
  ln.className = 'legline';
  ln.style.cssText = `left:2036px;top:${item.lineTop}px;width:145px;height:${item.lineH}px;background:${item.color};`;
  fig.appendChild(ln);
  const tx = document.createElement('div');
  tx.className = 'serif';
  tx.textContent = item.name;
  tx.style.left = '2020px';
  tx.style.top = item.textTop + 'px';
  fig.appendChild(tx);
});
</script>
</body></html>
